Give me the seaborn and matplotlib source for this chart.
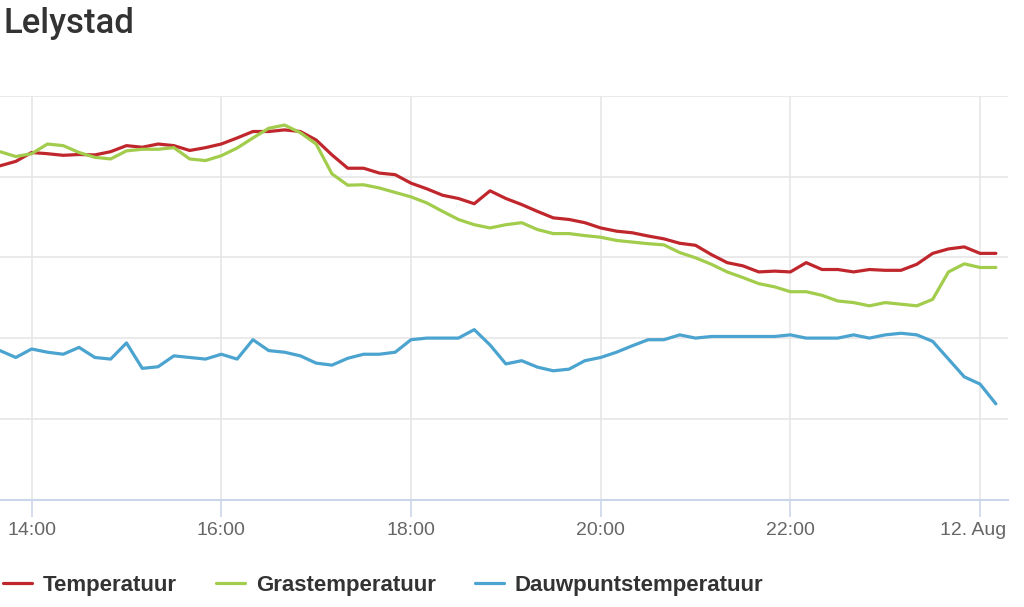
import numpy as np
import pandas as pd
import matplotlib
matplotlib.use("Agg")
import matplotlib.pyplot as plt
import matplotlib.transforms as mtransforms
import seaborn as sns

# ---- data (10-minute observations, Lelystad, 11-12 Aug) ----
start_time = "2023-08-11 13:40"
step = "10min"

temperatuur = [20.27, 20.38, 20.60, 20.57, 20.53, 20.55, 20.54, 20.62, 20.77, 20.73,
               20.81, 20.77, 20.65, 20.72, 20.81, 20.96, 21.12, 21.12, 21.16, 21.12,
               20.91, 20.54, 20.21, 20.21, 20.09, 20.05, 19.84, 19.70, 19.54, 19.46,
               19.33, 19.65, 19.46, 19.31, 19.14, 18.98, 18.94, 18.86, 18.73, 18.65,
               18.61, 18.53, 18.46, 18.35, 18.30, 18.07, 17.87, 17.79, 17.64, 17.66,
               17.64, 17.87, 17.70, 17.70, 17.64, 17.70, 17.68, 17.68, 17.83, 18.10,
               18.21, 18.26, 18.10, 18.10]

grastemperatuur = [20.62, 20.50, 20.57, 20.81, 20.77, 20.60, 20.48, 20.44, 20.64, 20.68,
                   20.68, 20.72, 20.44, 20.40, 20.52, 20.71, 20.96, 21.20, 21.28, 21.09,
                   20.81, 20.07, 19.79, 19.80, 19.72, 19.61, 19.50, 19.35, 19.14, 18.94,
                   18.81, 18.73, 18.81, 18.86, 18.69, 18.59, 18.59, 18.54, 18.50, 18.42,
                   18.38, 18.34, 18.31, 18.12, 17.99, 17.83, 17.64, 17.50, 17.35, 17.27,
                   17.15, 17.15, 17.06, 16.92, 16.88, 16.80, 16.88, 16.84, 16.80, 16.96,
                   17.64, 17.84, 17.75, 17.75]

dauwpunt = [15.69, 15.52, 15.73, 15.65, 15.60, 15.77, 15.52, 15.48, 15.88, 15.25,
            15.29, 15.56, 15.52, 15.48, 15.60, 15.48, 15.96, 15.69, 15.65, 15.56,
            15.38, 15.33, 15.50, 15.60, 15.60, 15.65, 15.96, 16.00, 16.00, 16.00,
            16.21, 15.83, 15.36, 15.44, 15.28, 15.19, 15.23, 15.44, 15.52, 15.65,
            15.81, 15.96, 15.96, 16.08, 16.00, 16.04, 16.04, 16.04, 16.04, 16.04,
            16.08, 16.00, 16.00, 16.00, 16.08, 16.00, 16.08, 16.12, 16.08, 15.92,
            15.48, 15.04, 14.86, 14.37]

series_names = ["Temperatuur", "Grastemperatuur", "Dauwpuntstemperatuur"]
series_colors = ["#c0272d", "#a2cc4c", "#4ba3cf"]
tick_labels = ["14:00", "16:00", "18:00", "20:00", "22:00", "12. Aug"]
title = "Lelystad"

times = pd.date_range(start_time, periods=len(temperatuur), freq=step)
df = pd.DataFrame({
    "tijd": np.concatenate([times] * 3),
    "waarde": temperatuur + grastemperatuur + dauwpunt,
    "reeks": np.repeat(series_names, len(times)),
})

sns.set_theme(style="white")
plt.rcParams["font.family"] = ["Liberation Sans", "DejaVu Sans"]

fig = plt.figure(figsize=(10.24, 6.07), dpi=100)
ax = fig.add_axes([0.0, 1 - 499.5 / 607, 1008 / 1024, (499.5 - 96) / 607])

sns.lineplot(data=df, x="tijd", y="waarde", hue="reeks", hue_order=series_names,
             palette=dict(zip(series_names, series_colors)), linewidth=2.3,
             ax=ax, legend=True)

ax.set_xlim(pd.Timestamp("2023-08-11 13:40"), pd.Timestamp("2023-08-12 00:17:40"))
ax.set_ylim(12, 22)
ax.set_yticks([12, 14, 16, 18, 20, 22])
ax.set_yticklabels([])
ax.tick_params(axis="y", length=0)

tick_pos = pd.date_range("2023-08-11 14:00", periods=6, freq="2h")
ax.set_xticks(tick_pos)
ax.set_xticklabels(tick_labels)
ax.tick_params(axis="x", length=12, width=1.2, color="#ccd6eb", direction="out",
               labelsize=14, labelcolor="#666666", pad=4.5, bottom=True)
# shift last label to stay inside the plot like the original
last = ax.get_xticklabels()[-1]
last.set_transform(last.get_transform() + mtransforms.ScaledTranslation(-7 / 100, 0, fig.dpi_scale_trans))

ax.grid(True, axis="both", color="#e6e6e6", linewidth=1.2)
ax.set_axisbelow(True)
for s in ["top", "left", "right"]:
    ax.spines[s].set_visible(False)
ax.spines["bottom"].set_color("#ccd6eb")
ax.spines["bottom"].set_linewidth(1.5)
ax.set_xlabel("")
ax.set_ylabel("")

handles, labels = ax.get_legend_handles_labels()
ax.get_legend().remove()
for h in handles:
    h.set_linewidth(2.3)
leg = fig.legend(handles, labels, loc="center left", bbox_to_anchor=(3 / 1024, 1 - 585 / 607),
                 ncol=3, frameon=False, borderpad=0, borderaxespad=0,
                 handlelength=1.3, handletextpad=0.5, columnspacing=1.75,
                 prop={"family": "Liberation Sans", "weight": "bold", "size": 16})
for t in leg.get_texts():
    t.set_color("#333333")

fig.text(3 / 1024, 1 - 23 / 607, title, ha="left", va="center", fontsize=25,
         color="#333333", family=["Roboto", "DejaVu Sans"], fontweight="medium")

fig.savefig("out.png", dpi=100)
